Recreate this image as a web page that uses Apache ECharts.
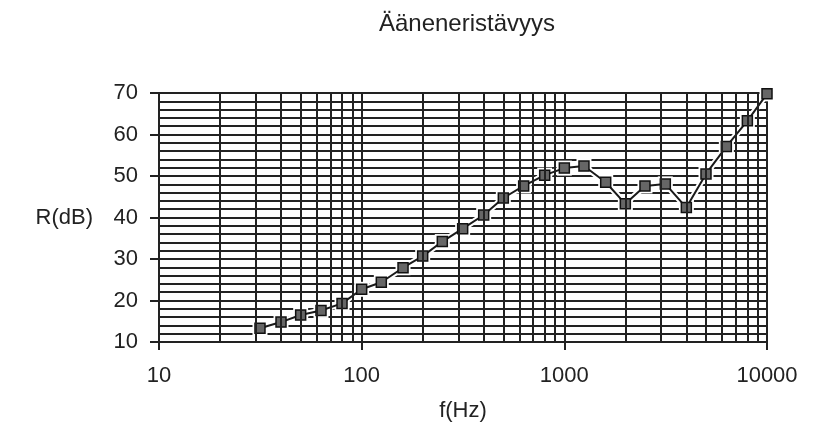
<!DOCTYPE html>
<html>
<head>
<meta charset="utf-8">
<script src="https://cdn.jsdelivr.net/npm/echarts@6/dist/echarts.min.js"></script>
<style>
html,body{margin:0;padding:0;background:#fff;}
#c{width:813px;height:442px;}
</style>
</head>
<body>
<div id="c"></div>
<script>
const frequencies = [31.5, 40, 50, 63, 80, 100, 125, 160, 200, 250, 315, 400, 500, 630, 800, 1000, 1250, 1600, 2000, 2500, 3150, 4000, 5000, 6300, 8000, 10000];
const insulation = [13.3, 14.8, 16.5, 17.6, 19.3, 22.7, 24.4, 27.9, 30.7, 34.2, 37.3, 40.6, 44.7, 47.6, 50.2, 51.9, 52.4, 48.5, 43.3, 47.6, 48.1, 42.4, 50.5, 57.1, 63.3, 69.8];
const minorFrequencies = [20, 30, 40, 50, 60, 70, 80, 90, 200, 300, 400, 500, 600, 700, 800, 900, 2000, 3000, 4000, 5000, 6000, 7000, 8000, 9000];
const titleText = 'Ääneneristävyys';
const xName = 'f(Hz)';
const yName = 'R(dB)';

const pts = frequencies.map((f, i) => [f, insulation[i]]);
const lineCol = '#222';
const font = 'Liberation Sans, Arial, Helvetica, sans-serif';

const chart = echarts.init(document.getElementById('c'));
chart.setOption({
  backgroundColor: '#fff',
  animation: false,
  title: {
    text: titleText, left: 462, top: 7, textAlign: 'center',
    textStyle: {fontFamily: font, fontSize: 24, fontWeight: 'normal', color: '#222'}
  },
  grid: {left: 159, right: 46, top: 93, bottom: 100},
  xAxis: {
    type: 'log', logBase: 10, min: 10, max: 10000,
    name: xName, nameLocation: 'middle', nameGap: 58,
    nameTextStyle: {fontFamily: font, fontSize: 22, color: '#222'},
    axisLine: {show: true, lineStyle: {color: lineCol, width: 2}},
    axisTick: {show: true, length: 8, inside: false, lineStyle: {color: lineCol, width: 2}},
    axisLabel: {fontFamily: font, fontSize: 22, color: '#222', margin: 23,
      formatter: v => String(Math.round(v))},
    splitLine: {show: true, lineStyle: {color: lineCol, width: 2}},
    minorTick: {show: false},
    minorSplitLine: {show: false}
  },
  yAxis: {
    type: 'value', min: 10, max: 70, interval: 10,
    name: yName, nameLocation: 'middle', nameRotate: 0, nameGap: 66,
    nameTextStyle: {fontFamily: font, fontSize: 22, color: '#222'},
    axisLine: {show: true, lineStyle: {color: lineCol, width: 2}},
    axisTick: {show: true, length: 9, lineStyle: {color: lineCol, width: 2}},
    axisLabel: {fontFamily: font, fontSize: 22, color: '#222', margin: 21},
    splitLine: {show: true, lineStyle: {color: lineCol, width: 2}},
    minorTick: {show: false, splitNumber: 5},
    minorSplitLine: {show: true, lineStyle: {color: lineCol, width: 2}}
  },
  series: [
    {
      type: 'line', data: [], silent: true, z: 1,
      markLine: {
        silent: true, symbol: 'none', animation: false,
        label: {show: false},
        lineStyle: {color: lineCol, width: 2, type: 'solid'},
        data: minorFrequencies.map(f => ({xAxis: f}))
      }
    },
    {
      type: 'line', data: pts, z: 3, silent: true,
      symbol: 'rect', symbolSize: 15,
      lineStyle: {color: '#fff', width: 6},
      itemStyle: {color: '#fff', borderWidth: 0}
    },
    {
      type: 'line', data: pts, z: 4, silent: true,
      symbol: 'rect', symbolSize: 10,
      lineStyle: {color: '#1a1a1a', width: 2},
      itemStyle: {color: '#666', borderColor: '#111', borderWidth: 1.5}
    }
  ]
});
</script>
</body>
</html>
